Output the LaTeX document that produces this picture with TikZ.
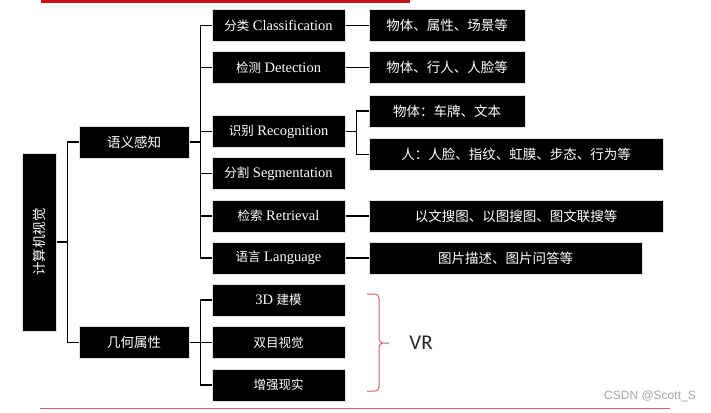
\documentclass[tikz,border=0pt]{standalone}
\usepackage{fontspec}
\setmainfont{Liberation Serif}
\setsansfont{Carlito}
\newfontfamily\cjk{Noto Sans CJK SC}
\newfontfamily\wmfont{Liberation Sans}
\definecolor{topred}{RGB}{204,16,22}
\definecolor{lowred}{RGB}{214,90,110}
\newcommand{\zh}[1]{{\cjk\fontsize{12.5}{15}\selectfont #1}}
\begin{document}
\begin{tikzpicture}[x=1pt,y=-1pt]
	\tikzset{
	  blk/.style={draw=gray!25,line width=1pt,fill=black,text=white,
		inner sep=0pt,font=\fontsize{13.5}{15}\selectfont},
	  lvone/.style={blk,minimum width=110pt,minimum height=32pt},
	  lvtwo/.style={blk,minimum width=133pt,minimum height=32pt,
		font=\fontsize{14.5}{16}\selectfont},
	  lvthree/.style={blk,minimum height=32pt},
	  conn/.style={black,line width=1.5pt},
	}

	\useasboundingbox[fill=white] (0,0) rectangle (711,412);

	%RED RULES
	\draw[topred,line width=3pt] (41,1.5) -- (410,1.5);
	\draw[lowred,line width=0.8pt] (40,408) -- (670,408);

	%ROOT
	\node[blk,minimum width=34pt,minimum height=178pt] (root) at (39,242)
		{\rotatebox{90}{\cjk 计算机视觉}};

	%LEVEL 1
	\node[lvone] (sem) at (134,142) {\cjk 语义感知};
	\node[lvone] (geo) at (134,342.5) {\cjk 几何属性};

	%LEVEL 2
	\node[lvtwo] (cls) at (278.5,25.5) {\zh{分类} Classification};
	\node[lvtwo] (det) at (278.5,67.5) {\zh{检测} Detection};
	\node[lvtwo] (rec) at (278.5,131.5) {\zh{识别} Recognition};
	\node[lvtwo] (seg) at (278.5,173.5) {\zh{分割} Segmentation};
	\node[lvtwo] (ret) at (278.5,216) {\zh{检索} Retrieval};
	\node[lvtwo] (lang) at (278.5,258) {\zh{语言} Language};
	\node[lvtwo] (model) at (278.5,300) {3D \zh{建模}};
	\node[lvtwo] (stereo) at (278.5,342.5) {\zh{双目视觉}};
	\node[lvtwo] (aug) at (278.5,385) {\zh{增强现实}};

	%LEVEL 3
	\node[lvthree,minimum width=156pt] (clsd) at (447,25.5) {\cjk 物体、属性、场景等};
	\node[lvthree,minimum width=156pt] (detd) at (447,67.5) {\cjk 物体、行人、人脸等};
	\node[lvthree,minimum width=156pt] (recobj) at (447,111) {\cjk 物体：车牌、文本};
	\node[lvthree,minimum width=294pt] (recper) at (516,154.5) {\cjk 人：人脸、指纹、虹膜、步态、行为等};
	\node[lvthree,minimum width=294pt] (retd) at (516,216) {\cjk 以文搜图、以图搜图、图文联搜等};
	\node[lvthree,minimum width=273pt] (langd) at (505.5,258) {\cjk 图片描述、图片问答等};

	%CONNECTORS
	\draw[conn] (root.east) -- ++(11,0) coordinate (rootj);
	\foreach \n in {sem,geo}
		\draw[conn] (rootj) |- (\n.west);
	\draw[conn] (sem.east) -- ++(11,0) coordinate (semj);
	\foreach \n in {cls,det,rec,seg,ret,lang}
		\draw[conn] (semj) |- (\n.west);
	\draw[conn] (geo.east) -- ++(11,0) coordinate (geoj);
	\foreach \n in {model,stereo,aug}
		\draw[conn] (geoj) |- (\n.west);
	\draw[conn] (rec.east) -- ++(11,0) coordinate (recj);
	\foreach \n in {recobj,recper}
		\draw[conn] (recj) |- (\n.west);
	\draw[conn] (cls) -- (clsd);
	\draw[conn] (det) -- (detd);
	\draw[conn] (ret.east) -- (retd.west);
	\draw[conn] (lang.east) -- (langd.west);

	%VR BRACE
	\coordinate (bt) at (367,294);
	\coordinate (bb) at (367,391);
	\coordinate (btip) at (389,343);
	\draw[lowred,line width=1pt,rounded corners=4pt]
		(bt) -- (379,294) -- (379,343) -- (btip)
		(bb) -- (379,391) -- (379,343) -- (btip);
	\node[font=\sffamily\fontsize{21}{24}\selectfont,text=black!85] (vr) at (421,343) {VR};

	%WATERMARK
	\node[font=\wmfont\fontsize{12}{14}\selectfont,text=gray!70] (mark) at (650,396) {CSDN @Scott\_S};
\end{tikzpicture}
\end{document}
